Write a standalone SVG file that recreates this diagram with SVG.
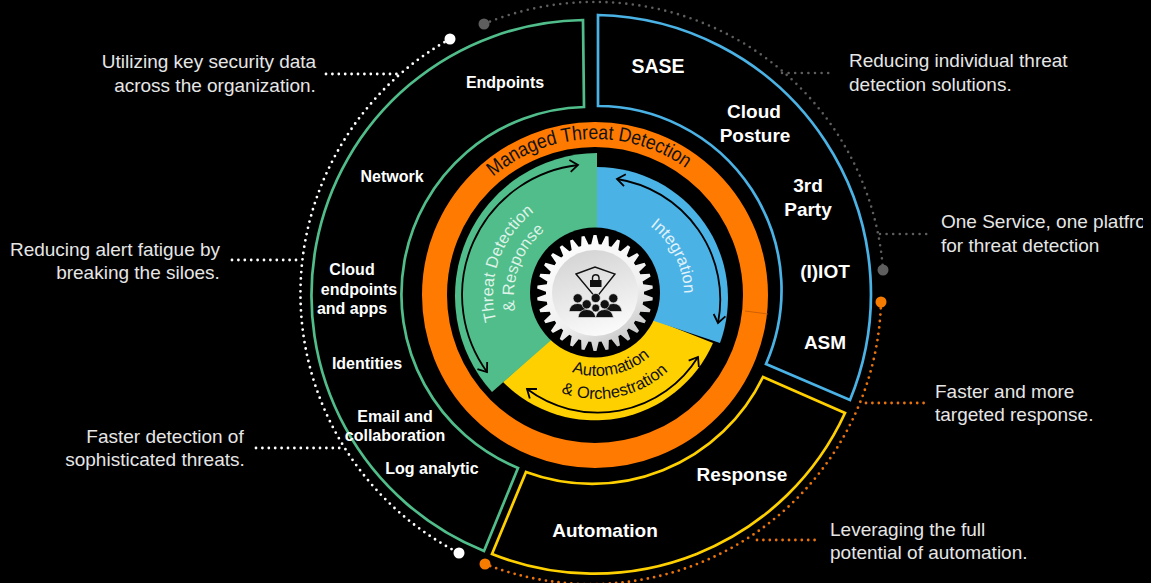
<svg xmlns="http://www.w3.org/2000/svg" width="1151" height="583" viewBox="0 0 1151 583">
<style>
text{font-family:"Liberation Sans",Arial,sans-serif}
.n{fill:#fff;font-weight:700;text-anchor:middle}
.a{fill:#e6e6e6;font-size:19px;text-anchor:middle}
.f{fill:none;stroke-width:2.7}
.w{fill:none;stroke:#fff;stroke-width:2.8;stroke-linecap:round;stroke-dasharray:0 6.4}
.g{fill:none;stroke:#5e5e5e;stroke-width:2.6;stroke-linecap:round;stroke-dasharray:0 6.6}
.o{fill:none;stroke:#e8720c;stroke-width:2.8;stroke-linecap:round;stroke-dasharray:0 6.4}
.ar{fill:none;stroke:#000;stroke-width:1.8;marker-start:url(#chev);marker-end:url(#chev)}
.c{font-size:16.5px;text-anchor:middle}
</style>
<defs>
<marker id="chev" markerUnits="userSpaceOnUse" markerWidth="14" markerHeight="14" refX="11" refY="7" orient="auto-start-reverse"><path d="M3,1 L11,7 L3,13" fill="none" stroke="#000" stroke-width="1.8"/></marker>
<linearGradient id="gg" x1="0.2" y1="0" x2="0.8" y2="1"><stop offset="0" stop-color="#fff"/><stop offset="0.6" stop-color="#f0f0f0"/><stop offset="1" stop-color="#bdbdbd"/></linearGradient>
<linearGradient id="gd" x1="0.3" y1="0" x2="0.6" y2="1"><stop offset="0" stop-color="#d4d4d4"/><stop offset="1" stop-color="#fbfbfb"/></linearGradient>
<path id="tooth" d="M591,245 L593.5,235 L596.5,235 L599,245 Z"/>
<clipPath id="gearClip">
<circle cx="595" cy="293" r="49"/>
<use href="#tooth"/><use href="#tooth" transform="rotate(12 595 293)"/><use href="#tooth" transform="rotate(24 595 293)"/><use href="#tooth" transform="rotate(36 595 293)"/><use href="#tooth" transform="rotate(48 595 293)"/><use href="#tooth" transform="rotate(60 595 293)"/><use href="#tooth" transform="rotate(72 595 293)"/><use href="#tooth" transform="rotate(84 595 293)"/><use href="#tooth" transform="rotate(96 595 293)"/><use href="#tooth" transform="rotate(108 595 293)"/><use href="#tooth" transform="rotate(120 595 293)"/><use href="#tooth" transform="rotate(132 595 293)"/><use href="#tooth" transform="rotate(144 595 293)"/><use href="#tooth" transform="rotate(156 595 293)"/><use href="#tooth" transform="rotate(168 595 293)"/><use href="#tooth" transform="rotate(180 595 293)"/><use href="#tooth" transform="rotate(192 595 293)"/><use href="#tooth" transform="rotate(204 595 293)"/><use href="#tooth" transform="rotate(216 595 293)"/><use href="#tooth" transform="rotate(228 595 293)"/><use href="#tooth" transform="rotate(240 595 293)"/><use href="#tooth" transform="rotate(252 595 293)"/><use href="#tooth" transform="rotate(264 595 293)"/><use href="#tooth" transform="rotate(276 595 293)"/><use href="#tooth" transform="rotate(288 595 293)"/><use href="#tooth" transform="rotate(300 595 293)"/><use href="#tooth" transform="rotate(312 595 293)"/><use href="#tooth" transform="rotate(324 595 293)"/><use href="#tooth" transform="rotate(336 595 293)"/><use href="#tooth" transform="rotate(348 595 293)"/>
</clipPath>
<clipPath id="frame"><rect x="0" y="0" width="1143" height="583"/></clipPath>
<path id="pManaged" d="M439,295 A156,156 0 0 1 751,295"/>
<path id="pT1" d="M597,399 A104,104 0 0 1 597,191"/>
<path id="pT2" d="M597,378 A83,83 0 0 1 597,212"/>
<path id="pI" d="M597,208 A87,87 0 0 1 597,382"/>
<path id="pA1" d="M516,295 A81,81 0 0 0 678,295"/>
<path id="pA2" d="M493,295 A104,104 0 0 0 701,295"/>
</defs>
<rect width="1151" height="583" fill="#000"/>

<g id="connectors">
<path class="w" d="M450,39 A291.500,291.500 0 0 0 459,553"/>
<path class="g" d="M484,24 A289,289 0 0 1 883,270"/>
<path class="o" d="M881,302 A290,290 0 0 1 485,564"/>
<path class="w" d="M326,74 H398"/>
<path class="w" d="M232,260 H302"/>
<path class="w" d="M256,448 H345"/>
<path class="g" d="M782,73 H834"/>
<path class="g" d="M880,234 H930"/>
<path class="o" d="M866,403 H926"/>
<path class="o" d="M757,540 H816"/>
<circle cx="450" cy="39" r="5.5" fill="#fff"/>
<circle cx="459" cy="553" r="5.5" fill="#fff"/>
<circle cx="484" cy="24" r="5.5" fill="#5e5e5e"/>
<circle cx="883" cy="270" r="5.5" fill="#5e5e5e"/>
<circle cx="881" cy="302" r="5.5" fill="#f57c00"/>
<circle cx="485" cy="564" r="5.5" fill="#f57c00"/>
</g>

<g id="detect-frame"><path class="f" stroke="#50bd8a" d="M583,20 A275.500,275.500 0 0 0 484,551 L518,468 A187.500,187.500 0 0 1 584,107 Z"/></g>
<g id="extend-frame"><path class="f" stroke="#4ab2e4" d="M598,15 A279,279 0 0 1 850,400 L766,364 A184,184 0 0 0 598,106 Z"/></g>
<g id="respond-frame"><path class="f" stroke="#ffd000" d="M492,554 L526,472 A190,190 0 0 0 763,377 L845,413 A276,276 0 0 1 492,554 Z"/></g>

<g id="managed-ring">
<circle cx="595" cy="295" r="160.500" fill="none" stroke="#ff7a00" stroke-width="25"/>
<path d="M745,311 L768,314" stroke="#c25a08" stroke-width="0.8" fill="none"/>
<text font-size="20" fill="#111" text-anchor="middle"><textPath href="#pManaged" startOffset="238" textLength="208" lengthAdjust="spacingAndGlyphs">Managed Threat Detection</textPath></text>
</g>

<g id="automation">
<path fill="#ffd000" d="M503,382 A129,129 0 0 0 713,343 L597,297 Z"/>
<path class="ar" d="M527,389 A118,118 0 0 0 698,357"/>
<text class="c" fill="#111"><textPath href="#pA1" startOffset="143">Automation</textPath></text>
<text class="c" fill="#111"><textPath href="#pA2" startOffset="184">&amp; Orchestration</textPath></text>
</g>
<g id="threat-detection">
<path fill="#50bd8a" d="M597,153 A143,143 0 0 0 492,392 L597,300 Z"/>
<path class="ar" d="M578,165 A131,131 0 0 0 487,372"/>
<text class="c" fill="#dff3e8"><textPath href="#pT1" startOffset="198">Threat Detection</textPath></text>
<text class="c" fill="#dff3e8"><textPath href="#pT2" startOffset="159">&amp; Response</textPath></text>
</g>
<g id="integration">
<path fill="#4ab2e4" d="M597,167 A131,131 0 0 1 720,343 L597,302 Z"/>
<path class="ar" d="M617,179 A122,122 0 0 1 718,323"/>
<text class="c" fill="#e2f3fb"><textPath href="#pI" startOffset="96">Integration</textPath></text>
</g>

<g id="gear">
<circle cx="595" cy="292.500" r="65" fill="#000"/>
<rect x="535" y="233" width="120" height="120" fill="url(#gg)" clip-path="url(#gearClip)"/>
<circle cx="595" cy="293" r="43" fill="url(#gd)"/>
<path d="M576,274 L595,267 L615,274 L596,298 Z" fill="none" stroke="#111" stroke-width="1.4"/>
<rect x="590" y="280" width="11.500" height="7" fill="#111"/>
<path d="M592.500,280 V277.500 A3.300,3.300 0 0 1 599,277.500 V280" fill="none" stroke="#111" stroke-width="1.400"/>
<g fill="#111" stroke="#e8e8e8" stroke-width="0.7">
<circle cx="577.700" cy="298.300" r="4.600"/><circle cx="613.300" cy="298.300" r="4.600"/>
<path d="M569,311.500 Q570,303.500 577.700,303.500 Q585,303.500 587,311.500 Z"/>
<path d="M604,311.500 Q606,303.500 613.300,303.500 Q621,303.500 622,311.500 Z"/>
<circle cx="595.700" cy="298" r="4.600"/>
<circle cx="586.700" cy="304.300" r="4.600"/><circle cx="604.700" cy="304.300" r="4.600"/>
<circle cx="595.700" cy="308" r="4"/>
<path d="M578,317.500 Q579,309.500 586.700,309.500 Q594,309.500 596,317.500 Z"/>
<path d="M595.500,317.500 Q597,309.500 604.700,309.500 Q612,309.500 613.500,317.500 Z"/>
</g>
</g>

<g id="n-endpoints"><text class="n" x="505" y="88" font-size="16">Endpoints</text></g>
<g id="n-network"><text class="n" x="392" y="182" font-size="16">Network</text></g>
<g id="n-cloud-endpoints"><text class="n" font-size="16"><tspan x="352" y="275">Cloud</tspan><tspan x="359" y="295">endpoints</tspan><tspan x="352" y="314">and apps</tspan></text></g>
<g id="n-identities"><text class="n" x="367" y="369" font-size="16">Identities</text></g>
<g id="n-email"><text class="n" font-size="16"><tspan x="395" y="422">Email and</tspan><tspan x="395" y="441">collaboration</tspan></text></g>
<g id="n-log"><text class="n" x="432" y="474" font-size="16">Log analytic</text></g>
<g id="n-sase"><text class="n" x="658" y="73" font-size="19.500">SASE</text></g>
<g id="n-cloud-posture"><text class="n" font-size="19"><tspan x="754" y="118">Cloud</tspan><tspan x="755" y="142">Posture</tspan></text></g>
<g id="n-3rd-party"><text class="n" font-size="19"><tspan x="808" y="192">3rd</tspan><tspan x="808" y="216">Party</tspan></text></g>
<g id="n-iot"><text class="n" x="825" y="278" font-size="19">(I)IOT</text></g>
<g id="n-asm"><text class="n" x="825" y="349" font-size="19">ASM</text></g>
<g id="n-response"><text class="n" x="742" y="481" font-size="19">Response</text></g>
<g id="n-automation"><text class="n" x="605" y="537" font-size="19">Automation</text></g>

<g id="note-1"><text class="a"><tspan x="209" y="68">Utilizing key security data</tspan><tspan x="215" y="92">across the organization.</tspan></text></g>
<g id="note-2"><text class="a"><tspan x="115" y="256">Reducing alert fatigue by</tspan><tspan x="138" y="279">breaking the siloes.</tspan></text></g>
<g id="note-3"><text class="a"><tspan x="165" y="443">Faster detection of</tspan><tspan x="155" y="466">sophisticated threats.</tspan></text></g>
<g id="note-4"><text class="a" style="text-anchor:start"><tspan x="849" y="67">Reducing individual threat</tspan><tspan x="849" y="91">detection solutions.</tspan></text></g>
<g id="note-5"><text class="a" style="text-anchor:start" clip-path="url(#frame)"><tspan x="941" y="228">One Service, one platfro</tspan><tspan x="941" y="252">for threat detection</tspan></text></g>
<g id="note-6"><text class="a" style="text-anchor:start"><tspan x="935" y="398">Faster and more</tspan><tspan x="935" y="421">targeted response.</tspan></text></g>
<g id="note-7"><text class="a" style="text-anchor:start"><tspan x="830" y="536">Leveraging the full</tspan><tspan x="830" y="559">potential of automation.</tspan></text></g>
</svg>
